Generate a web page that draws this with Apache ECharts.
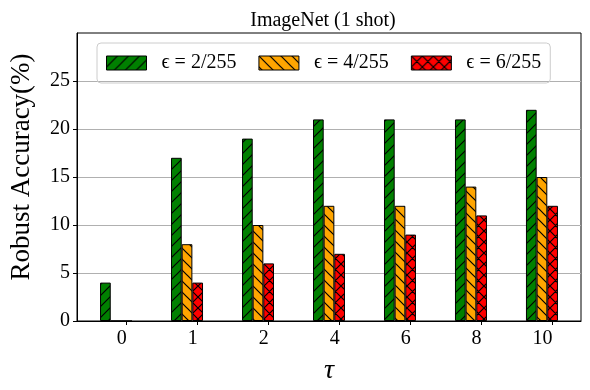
<!DOCTYPE html>
<html>
<head>
<meta charset="utf-8">
<script src="https://cdn.jsdelivr.net/npm/echarts@6/dist/echarts.min.js"></script>
<style>
  html, body { margin: 0; padding: 0; background: #fff; }
  #chart { width: 590px; height: 390px; }
</style>
</head>
<body>
<div id="chart"></div>
<script type="text/javascript">
    // data
    var categories = ['0', '1', '2', '4', '6', '8', '10'];
    var eps2 = [4, 17, 19, 21, 21, 21, 22];
    var eps4 = [0, 8, 10, 12, 12, 14, 15];
    var eps6 = [0, 4, 6, 7, 9, 11, 12];
    var seriesNames = ['ϵ = 2/255', 'ϵ = 4/255', 'ϵ = 6/255'];
    var yTicks = [0, 5, 10, 15, 20, 25];

    var serif = "'Liberation Serif', 'DejaVu Serif', serif";

    // hatch fills: '/', '\', 'x'
    function hatch(bg, kind) {
        var s = 11;
        var c = document.createElement('canvas');
        c.width = s; c.height = s;
        var ctx = c.getContext('2d');
        ctx.fillStyle = bg;
        ctx.fillRect(0, 0, s, s);
        ctx.strokeStyle = '#000';
        ctx.lineWidth = 1.2;
        ctx.beginPath();
        if (kind === '/' || kind === 'x') {
            ctx.moveTo(-1, s + 1); ctx.lineTo(s + 1, -1);
            ctx.moveTo(-1, 1); ctx.lineTo(1, -1);
            ctx.moveTo(s - 1, s + 1); ctx.lineTo(s + 1, s - 1);
        }
        if (kind === '\\' || kind === 'x') {
            ctx.moveTo(-1, -1); ctx.lineTo(s + 1, s + 1);
            ctx.moveTo(s - 1, -1); ctx.lineTo(s + 1, 1);
            ctx.moveTo(-1, s - 1); ctx.lineTo(1, s + 1);
        }
        ctx.stroke();
        return { image: c, repeat: 'repeat' };
    }

    function toPoints(values, offset) {
        return values.map(function (v, i) { return [i + offset, v]; });
    }

    var fills = [hatch('#008000', '/'), hatch('#ffa500', '\\'), hatch('#ff0000', 'x')];
    var offsets = [-0.3, -0.15, 0];
    var allValues = [eps2, eps4, eps6];

    var chart = echarts.init(document.getElementById('chart'), null, { renderer: 'canvas' });

    chart.setOption({
        animation: false,
        title: {
            text: 'ImageNet (1 shot)',
            left: 318, top: 6,
            textAlign: 'center',
            textStyle: { fontFamily: serif, fontSize: 20, fontWeight: 'normal', color: '#000' }
        },
        legend: {
            left: 97, top: 43,
            padding: [10, 9],
            itemWidth: 40, itemHeight: 14, itemGap: 22,
            icon: 'rect',
            borderColor: '#cccccc', borderWidth: 1, borderRadius: 4,
            itemStyle: { borderColor: '#000', borderWidth: 1 },
            textStyle: { fontFamily: serif, fontSize: 20, color: '#000', width: 77, padding: [0, 0, 0, 10] },
            data: seriesNames
        },
        grid: {
            left: 72, right: 9, top: 33, bottom: 69,
            show: true, borderColor: '#000', borderWidth: 1
        },
        xAxis: {
            type: 'value',
            min: -0.7, max: 6.4,
            name: 'τ',
            nameLocation: 'middle',
            nameGap: 36,
            nameTextStyle: { fontFamily: serif, fontSize: 28, fontStyle: 'italic', color: '#000' },
            axisLine: { onZero: false, lineStyle: { color: '#000' } },
            axisTick: { show: true, length: 4, customValues: [0, 1, 2, 3, 4, 5, 6], lineStyle: { color: '#000' } },
            axisLabel: {
                customValues: [0, 1, 2, 3, 4, 5, 6],
                formatter: function (v) { return categories[Math.round(v)]; },
                align: 'right',
                margin: 8,
                fontFamily: serif, fontSize: 20, color: '#000'
            },
            splitLine: { show: false }
        },
        yAxis: {
            type: 'value',
            min: 0, max: 30, interval: 5,
            name: 'Robust Accuracy(%)',
            nameLocation: 'middle',
            nameGap: 42,
            nameTextStyle: { fontFamily: serif, fontSize: 27, color: '#000', padding: [0, 0, 0, 20] },
            axisLine: { show: true, onZero: false, lineStyle: { color: '#000' } },
            axisTick: { show: true, length: 4, customValues: yTicks, lineStyle: { color: '#000' } },
            axisLabel: { customValues: yTicks, fontFamily: serif, fontSize: 20, color: '#000', margin: 7 },
            splitLine: { show: true, lineStyle: { color: '#b0b0b0', width: 1 } }
        },
        series: seriesNames.map(function (name, k) {
            return {
                name: name,
                type: 'bar',
                barWidth: 10.7,
                barGap: '-100%',
                data: toPoints(allValues[k], offsets[k]),
                itemStyle: { color: fills[k], borderColor: '#000', borderWidth: 1 }
            };
        })
    });
</script>
</body>
</html>
